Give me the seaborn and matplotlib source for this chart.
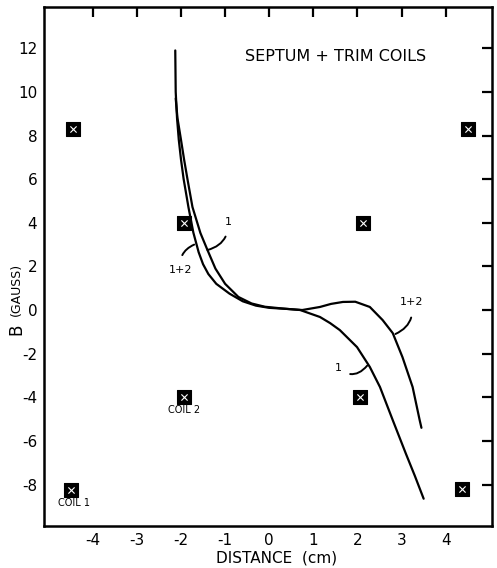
import seaborn as sns
import matplotlib.pyplot as plt
import pandas as pd

# field of the septum with and without the trim coils
curve_12_x = [-2.13, -2.12, -2.09, -2.05, -2.00, -1.94, -1.83, -1.72, -1.60, -1.50,
              -1.38, -1.20, -0.90, -0.60, -0.30, 0.00, 0.40, 0.75, 1.15, 1.40,
              1.67, 1.95, 2.28, 2.57, 2.80, 3.02, 3.25, 3.41, 3.45]
curve_12_y = [11.9, 10.0, 8.8, 7.8, 6.9, 6.0, 4.7, 3.55, 2.65, 2.1,
              1.65, 1.2, 0.75, 0.4, 0.2, 0.1, 0.05, 0.0, 0.14, 0.28,
              0.37, 0.38, 0.14, -0.46, -1.06, -2.16, -3.53, -5.05, -5.4]

curve_1_x = [-2.12, -2.08, -2.00, -1.93, -1.85, -1.74, -1.56, -1.40, -1.22, -1.00,
             -0.70, -0.40, -0.10, 0.30, 0.70, 1.15, 1.38, 1.60, 1.99, 2.28,
             2.51, 2.80, 3.10, 3.30, 3.50]
curve_1_y = [9.7, 8.8, 7.8, 6.9, 5.96, 4.72, 3.53, 2.75, 1.9, 1.2,
             0.6, 0.3, 0.15, 0.07, 0.0, -0.32, -0.6, -0.92, -1.70, -2.61,
             -3.53, -5.05, -6.6, -7.6, -8.65]

# coil positions
coil_x = [-4.45, -1.94, 2.12, 4.5, -1.94, 2.05, -4.5, 4.38]
coil_y = [8.3, 4.0, 4.0, 8.3, -4.0, -4.0, -8.25, -8.2]

x_ticks = [-4, -3, -2, -1, 0, 1, 2, 3, 4]
y_ticks = [-8, -6, -4, -2, 0, 2, 4, 6, 8, 10, 12]

sns.set_theme(style='white')
plt.rcParams['font.family'] = ['DejaVu Sans']
plt.rcParams['axes.unicode_minus'] = False
plt.rcParams['text.color'] = 'black'
plt.rcParams['axes.labelcolor'] = 'black'

df12 = pd.DataFrame({'x': curve_12_x, 'y': curve_12_y})
df1 = pd.DataFrame({'x': curve_1_x, 'y': curve_1_y})
coils = pd.DataFrame({'x': coil_x, 'y': coil_y})

fig = plt.figure(figsize=(4.97, 5.68), dpi=100)
ax = fig.add_axes([0.089, 0.074, 0.901, 0.914])

sns.lineplot(data=df12, x='x', y='y', sort=False, estimator=None,
             color='black', linewidth=1.6, ax=ax)
sns.lineplot(data=df1, x='x', y='y', sort=False, estimator=None,
             color='black', linewidth=1.6, ax=ax)
sns.scatterplot(data=coils, x='x', y='y', marker='s', s=95, color='black',
                edgecolor='black', ax=ax, zorder=3)
sns.scatterplot(data=coils, x='x', y='y', marker='x', s=20, color='white',
                linewidth=0.8, ax=ax, zorder=4)

ax.set_xlim(-5.1, 5.05)
ax.set_ylim(-9.9, 13.9)
ax.set_xticks(x_ticks)
ax.set_yticks(y_ticks)
ax.tick_params(direction='in', length=7, width=1.6, labelsize=11,
               top=True, right=True, labeltop=False, labelright=False,
               colors='black', pad=5)
for s in ax.spines.values():
    s.set_linewidth(1.8)
    s.set_color('black')

ax.set_xlabel('')
ax.set_ylabel('')
fig.text(0.556, 0.018, 'DISTANCE  (cm)', fontsize=11, ha='center', va='center')
fig.text(0.032, 0.42, 'B', fontsize=12, rotation=90, ha='center', va='center')
fig.text(0.032, 0.49, '(GAUSS)', fontsize=9, rotation=90, ha='center', va='center')

ax.text(1.5, 11.6, 'SEPTUM + TRIM COILS', fontsize=11.5, ha='center', va='center')
ax.text(-1.94, -4.6, 'COIL 2', fontsize=7, ha='center', va='center')
ax.text(-4.42, -8.85, 'COIL 1', fontsize=7, ha='center', va='center')

lead = dict(arrowstyle='-', color='black', linewidth=1.4)
ax.annotate('1', xy=(-1.40, 2.75), xytext=(-0.93, 4.05), fontsize=8,
            ha='center', va='center',
            arrowprops=dict(lead, connectionstyle='arc3,rad=-0.4', shrinkA=5, shrinkB=0))
ax.annotate('1+2', xy=(-1.70, 3.0), xytext=(-2.0, 1.83), fontsize=8,
            ha='center', va='center',
            arrowprops=dict(lead, connectionstyle='arc3,rad=-0.4', shrinkA=5, shrinkB=0))
ax.annotate('1+2', xy=(2.86, -1.1), xytext=(3.22, 0.35), fontsize=8,
            ha='center', va='center',
            arrowprops=dict(lead, connectionstyle='arc3,rad=-0.4', shrinkA=5, shrinkB=0))
ax.annotate('1', xy=(2.22, -2.55), xytext=(1.56, -2.66), fontsize=8,
            ha='center', va='center',
            arrowprops=dict(lead, connectionstyle='arc3,rad=0.5', shrinkA=4, shrinkB=0))

fig.savefig('out.png', dpi=100)
